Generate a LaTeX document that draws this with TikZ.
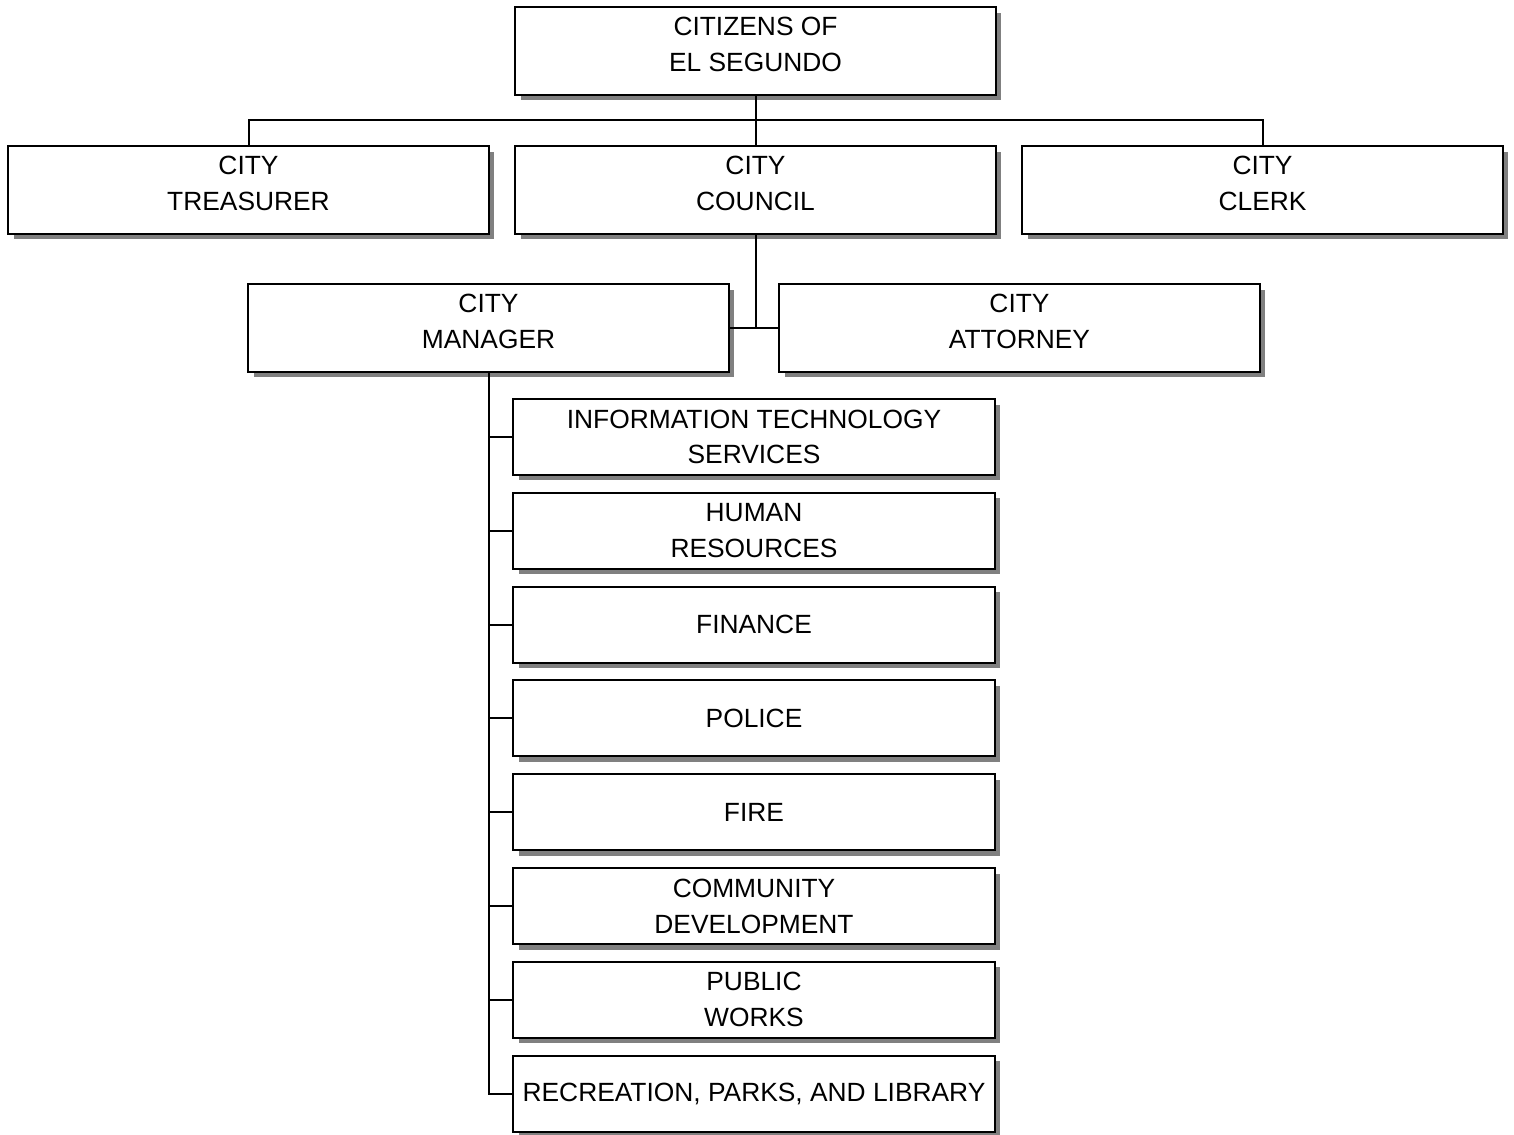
\documentclass[tikz,border=0pt]{standalone}
\usepackage{fontspec}
\setmainfont{Liberation Sans}
\usetikzlibrary{shadows}

\tikzset{
  unit/.style={draw, line width=0.04cm, fill=white, inner sep=0pt,
    minimum width=9.62cm, minimum height=1.76cm,
    drop shadow={shadow xshift=0.11cm, shadow yshift=-0.11cm, fill=black!50, opacity=1}},
  dept/.style={unit, minimum width=9.64cm, minimum height=1.52cm},
  txt/.style={align=center, inner sep=0pt, font=\fontsize{15}{20.4}\selectfont},
  link/.style={line width=0.04cm}
}

\begin{document}
\begin{tikzpicture}[x=0.02cm, y=-0.02cm]
	\useasboundingbox (0,0) rectangle (1514,1135);

	% top level
	\node[unit] (citz) at (755.5,51) {};
	\node[txt] at ([yshift=0.13cm]citz.center) {CITIZENS OF\\EL SEGUNDO};

	% elected
	\node[unit] (tres) at (248.5,190) {};
	\node[txt] at ([yshift=0.13cm]tres.center) {CITY\\TREASURER};
	\node[unit] (coun) at (755.5,190) {};
	\node[txt] at ([yshift=0.13cm]coun.center) {CITY\\COUNCIL};
	\node[unit] (clrk) at (1262.5,190) {};
	\node[txt] at ([yshift=0.13cm]clrk.center) {CITY\\CLERK};

	% appointed
	\node[unit] (mgr) at (488.5,328) {};
	\node[txt] at ([yshift=0.13cm]mgr.center) {CITY\\MANAGER};
	\node[unit] (atty) at (1019.5,328) {};
	\node[txt] at ([yshift=0.13cm]atty.center) {CITY\\ATTORNEY};

	% departments
	\foreach \i/\name in {1/{INFORMATION TECHNOLOGY\\SERVICES},
	                      2/{HUMAN\\RESOURCES},
	                      3/FINANCE,
	                      4/POLICE,
	                      5/FIRE,
	                      6/{COMMUNITY\\DEVELOPMENT},
	                      7/{PUBLIC\\WORKS},
	                      8/{RECREATION, PARKS, AND LIBRARY}}
	{
		\node[dept] (d\i) at (754,{437+93.8*(\i-1)}) {};
		\node[txt] at (d\i.center) {\name};
	}

	% connectors
	\coordinate (bar) at (755.5,120);
	\draw[link] (citz.south) -- (coun.north);
	\draw[link] (tres.north) |- (bar) -| (clrk.north);
	\draw[link] (coun.south) -- (coun.south |- mgr.east);
	\draw[link] (mgr.east) -- (atty.west);
	\draw[link] (mgr.south) |- (d8.west);
	\foreach \i in {1,...,7}
		\draw[link] (mgr.south |- d\i.west) -- (d\i.west);
\end{tikzpicture}
\end{document}
